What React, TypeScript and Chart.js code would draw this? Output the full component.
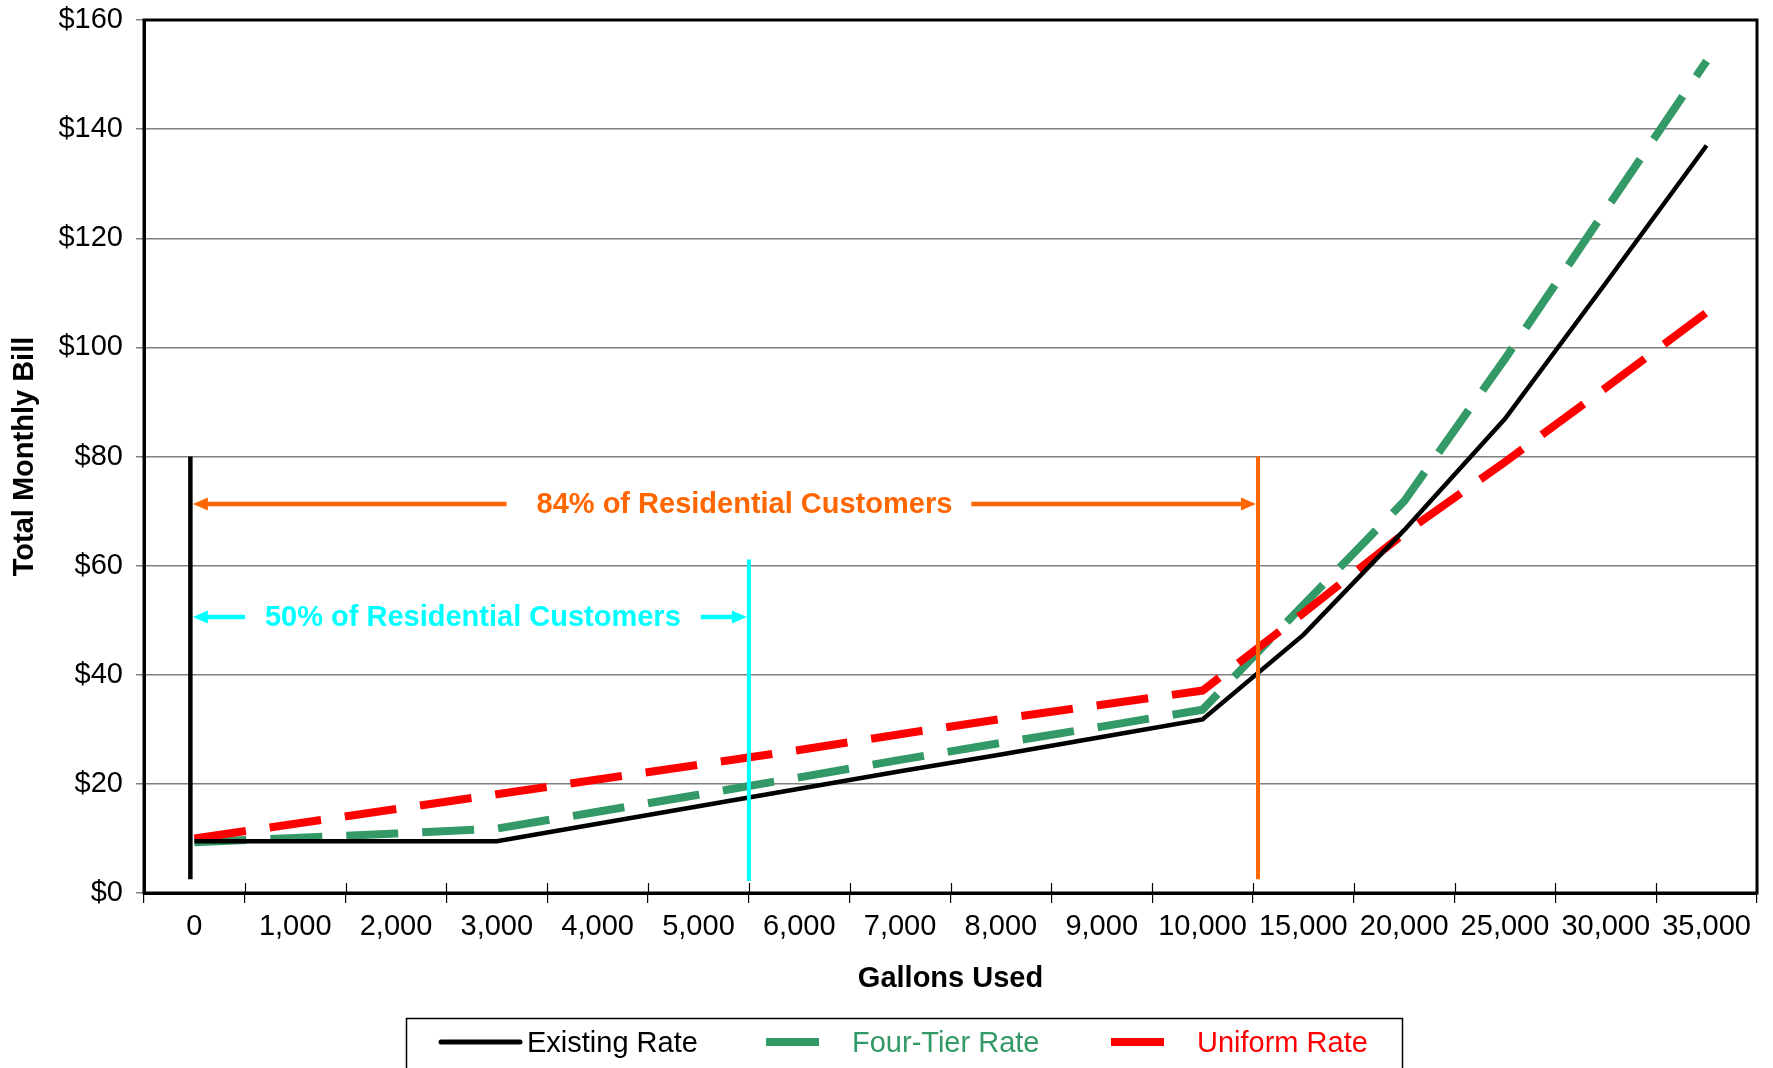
import React, { useEffect, useRef } from 'react';
import { Chart, registerables } from 'chart.js';

Chart.register(...registerables);

// ---------- data ----------
const categories = [
  '0', '1,000', '2,000', '3,000', '4,000', '5,000', '6,000', '7,000',
  '8,000', '9,000', '10,000', '15,000', '20,000', '25,000', '30,000', '35,000',
];
const existingRate = [9.5, 9.5, 9.5, 9.5, 12.7, 15.9, 19.1, 22.3, 25.4, 28.6, 31.8, 47.3, 66.5, 86.9, 111.8, 137.0];
const fourTierRate = [9.3, 10.1, 10.9, 11.8, 14.9, 18.0, 21.2, 24.4, 27.5, 30.5, 33.6, 52.8, 71.8, 97.9, 125.2, 152.5];
const uniformRate = [10.0, 12.7, 15.4, 18.1, 20.8, 23.5, 26.2, 29.1, 31.9, 34.5, 37.1, 51.3, 65.9, 79.0, 92.6, 106.4];
const seriesNames = ['Existing Rate', 'Four-Tier Rate', 'Uniform Rate'];
const seriesColors = ['#000000', '#339966', '#FF0000'];
const yMin = 0;
const yMax = 160;
const yStep = 20;
const axisTitleX = 'Gallons Used';
const axisTitleY = 'Total Monthly Bill';

// annotation values (category index / dollar values)
const zeroMarker = { index: -0.04, from: 2.5, to: 80 };
const customerBands = [
  { label: '84% of Residential Customers', boundary: 10.55, from: 2.5, to: 80, arrowAt: 71.3, color: '#FF6600', shift: 20, gapL: 30, gapR: 19 },
  { label: '50% of Residential Customers', boundary: 5.5, from: 2.2, to: 61.1, arrowAt: 50.6, color: '#00FFFF', shift: 3, gapL: 20, gapR: 20 },
];

const FONT = "'Liberation Sans', Arial, Helvetica, sans-serif";

const overlayPlugin = {
  id: 'overlay',
  afterDatasetsDraw(chart: any) {
    const { ctx, scales } = chart;
    const x = scales.x;
    const y = scales.y;
    ctx.save();
    // zero marker line
    const zx = x.getPixelForValue(zeroMarker.index);
    ctx.strokeStyle = '#000000';
    ctx.lineWidth = 4.5;
    ctx.lineCap = 'butt';
    ctx.beginPath();
    ctx.moveTo(zx, y.getPixelForValue(zeroMarker.from));
    ctx.lineTo(zx, y.getPixelForValue(zeroMarker.to));
    ctx.stroke();

    customerBands.forEach((b) => {
      const bx = x.getPixelForValue(b.boundary);
      ctx.strokeStyle = b.color;
      ctx.fillStyle = b.color;
      ctx.lineWidth = 4;
      ctx.beginPath();
      ctx.moveTo(bx, y.getPixelForValue(b.from));
      ctx.lineTo(bx, y.getPixelForValue(b.to));
      ctx.stroke();

      const ay = y.getPixelForValue(b.arrowAt);
      const leftTip = zx + 2.5;
      const rightTip = bx - 2;
      ctx.font = `bold 29px ${FONT}`;
      const tw = ctx.measureText(b.label).width;
      const cx = (leftTip + rightTip) / 2 + b.shift;
      const tl = cx - tw / 2;
      const tr = cx + tw / 2;
      ctx.textAlign = 'center';
      ctx.textBaseline = 'middle';
      ctx.fillText(b.label, cx, ay + 1);

      const head = 15;
      const half = 6.5;
      ctx.lineWidth = 4.5;
      ctx.beginPath();
      ctx.moveTo(leftTip + head - 1, ay);
      ctx.lineTo(tl - b.gapL, ay);
      ctx.moveTo(tr + b.gapR, ay);
      ctx.lineTo(rightTip - head + 1, ay);
      ctx.stroke();
      ctx.beginPath();
      ctx.moveTo(leftTip, ay);
      ctx.lineTo(leftTip + head, ay - half);
      ctx.lineTo(leftTip + head, ay + half);
      ctx.closePath();
      ctx.fill();
      ctx.beginPath();
      ctx.moveTo(rightTip, ay);
      ctx.lineTo(rightTip - head, ay - half);
      ctx.lineTo(rightTip - head, ay + half);
      ctx.closePath();
      ctx.fill();
    });
    ctx.restore();
  },
  afterDraw(chart: any) {
    const { ctx, chartArea, scales } = chart;
    const x = scales.x;
    const { left, right, top, bottom } = chartArea;
    ctx.save();
    // frame
    ctx.strokeStyle = '#000000';
    ctx.lineWidth = 3;
    ctx.lineCap = 'square';
    ctx.beginPath();
    ctx.moveTo(left, top);
    ctx.lineTo(right, top);
    ctx.lineTo(right, bottom);
    ctx.lineTo(left, bottom);
    ctx.closePath();
    ctx.stroke();
    // crossing x tick marks (upper half)
    ctx.lineWidth = 1.2;
    ctx.lineCap = 'butt';
    for (let i = 0; i <= categories.length; i++) {
      const px = Math.round(x.getPixelForValue(i - 0.5)) + 0.5;
      ctx.beginPath();
      ctx.moveTo(px, bottom - 10);
      ctx.lineTo(px, bottom);
      ctx.stroke();
    }
    // legend box
    const bx = 406.5;
    const by = 1018.5;
    ctx.lineWidth = 1.5;
    ctx.strokeStyle = '#000000';
    ctx.strokeRect(bx, by, 996, 80);
    const items = [
      { x1: 441, x2: 520, tx: 527, width: 5, cap: 'round' },
      { x1: 766, x2: 819, tx: 852, width: 8, cap: 'butt' },
      { x1: 1111, x2: 1164, tx: 1197, width: 8, cap: 'butt' },
    ];
    ctx.font = `29px ${FONT}`;
    ctx.textAlign = 'left';
    ctx.textBaseline = 'middle';
    items.forEach((it, i) => {
      ctx.strokeStyle = seriesColors[i];
      ctx.lineWidth = it.width;
      ctx.lineCap = it.cap;
      ctx.beginPath();
      ctx.moveTo(it.x1, 1042);
      ctx.lineTo(it.x2, 1042);
      ctx.stroke();
      ctx.fillStyle = seriesColors[i];
      ctx.fillText(seriesNames[i], it.tx, 1044);
    });
    ctx.restore();
  },
};

export default function App() {
  const ref = useRef<HTMLCanvasElement | null>(null);
  useEffect(() => {
    document.body.style.margin = '0';
    Chart.defaults.font.family = FONT;
    const chart = new Chart(ref.current as HTMLCanvasElement, {
      type: 'line',
      data: {
        labels: categories,
        datasets: [
          {
            label: seriesNames[0],
            data: existingRate,
            borderColor: seriesColors[0],
            backgroundColor: seriesColors[0],
            borderWidth: 4.5,
            pointRadius: 0,
            tension: 0,
            order: 0,
          },
          {
            label: seriesNames[1],
            data: fourTierRate,
            borderColor: seriesColors[1],
            backgroundColor: seriesColors[1],
            borderWidth: 8,
            borderDash: [52, 24],
            pointRadius: 0,
            tension: 0,
            order: 2,
          },
          {
            label: seriesNames[2],
            data: uniformRate,
            borderColor: seriesColors[2],
            backgroundColor: seriesColors[2],
            borderWidth: 8,
            borderDash: [52, 24],
            pointRadius: 0,
            tension: 0,
            order: 1,
          },
        ],
      },
      options: {
        animation: false,
        responsive: true,
        maintainAspectRatio: false,
        layout: { padding: { top: 20, right: 16, left: 0, bottom: 0 } },
        plugins: {
          legend: { display: false },
          tooltip: { enabled: false },
        },
        scales: {
          x: {
            type: 'category',
            offset: true,
            afterFit: (s: any) => { s.height = 175; s.paddingLeft = 0; s.paddingRight = 0; },
            grid: {
              offset: true,
              drawOnChartArea: false,
              drawTicks: true,
              tickLength: 10,
              color: '#000000',
              lineWidth: 1.2,
            },
            border: { display: true, color: '#000000', width: 3 },
            ticks: {
              color: '#000000',
              font: { size: 29, family: FONT },
              padding: 7,
              autoSkip: false,
              maxRotation: 0,
              minRotation: 0,
            },
            title: {
              display: true,
              text: axisTitleX,
              color: '#000000',
              font: { size: 29, weight: 'bold', family: FONT },
              padding: { top: 0, bottom: 72 },
            },
          },
          y: {
            min: yMin,
            max: yMax,
            afterFit: (s: any) => { s.width = 144; s.paddingTop = 0; s.paddingBottom = 0; },
            grid: {
              color: '#808080',
              lineWidth: 1.5,
              drawTicks: true,
              tickLength: 8,
              tickColor: '#808080',
            },
            border: { display: true, color: '#000000', width: 3 },
            ticks: {
              stepSize: yStep,
              color: '#000000',
              font: { size: 29, family: FONT },
              padding: 13,
              callback: (v: any) => '$' + v,
            },
            title: {
              display: true,
              text: axisTitleY,
              color: '#000000',
              font: { size: 29, weight: 'bold', family: FONT },
              padding: { top: 8, bottom: 0 },
            },
          },
        },
      } as any,
      plugins: [overlayPlugin],
    });
    return () => chart.destroy();
  }, []);
  return (
    <div style={{ position: 'relative', width: 1773, height: 1068 }}>
      <canvas ref={ref} />
    </div>
  );
}
